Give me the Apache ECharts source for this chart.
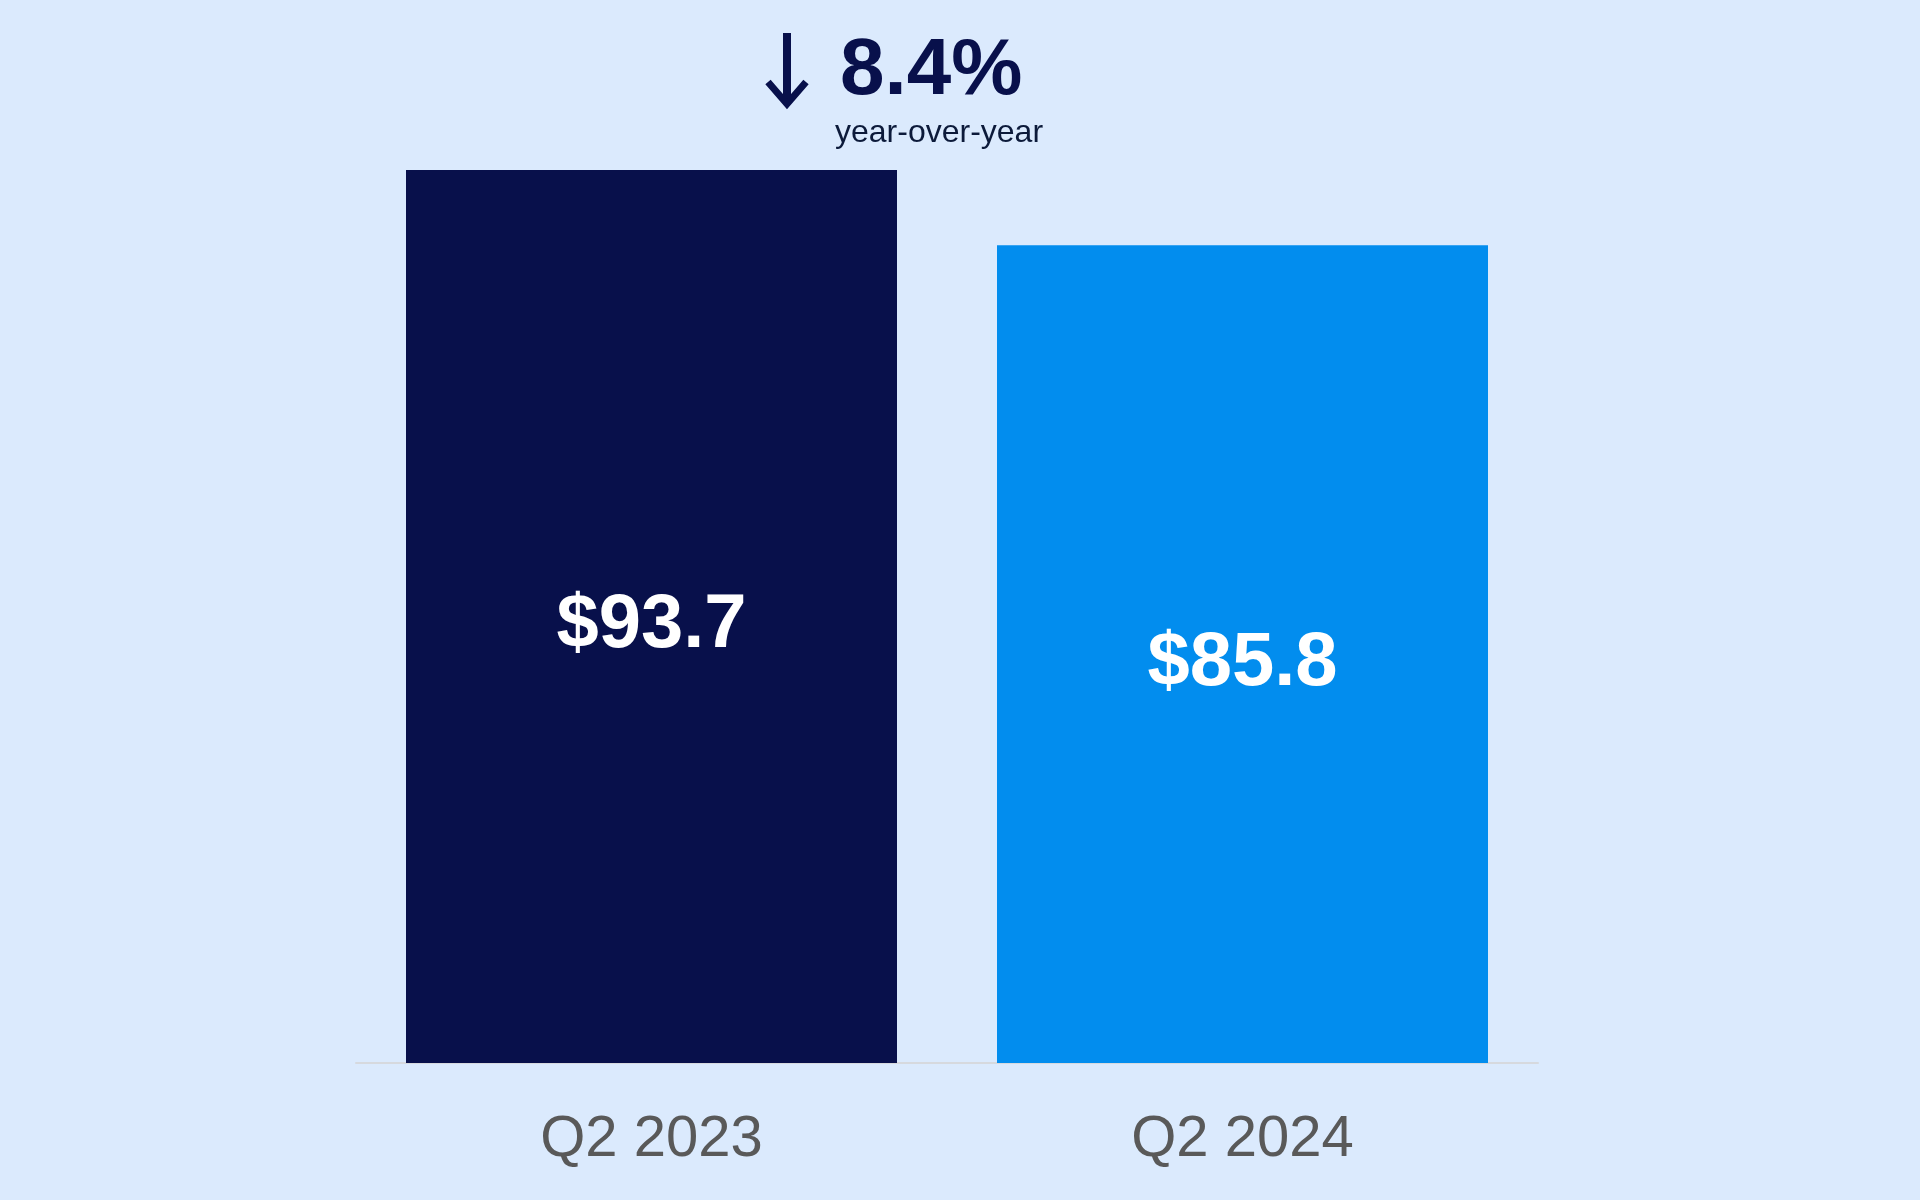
<!DOCTYPE html>
<html>
<head>
<meta charset="utf-8">
<title>Q2 revenue</title>
<script src="https://cdn.jsdelivr.net/npm/echarts@6/dist/echarts.min.js"></script>
<style>
    html,body{margin:0;padding:0;background:#dbeafd;}
    #J_Main{width:1920px;height:1200px;}
</style>
</head>
<body>
<div id="J_Main"></div>
<script>
// chart data
var categories=["Q2 2023","Q2 2024"];
var values=[93.7,85.8];
var barColors=["#08104b","#028dee"];
var changeText="8.4%";
var changeNote="year-over-year";

var chartDom=document.getElementById("J_Main");
var myChart=echarts.init(chartDom);

var seriesData=values.map(function(v,i){
    return {value:v,itemStyle:{color:barColors[i]}};
});

var option={
    backgroundColor:"#dbeafd",
    animation:false,
    grid:{
        top:110,
        bottom:137,
        left:356,
        right:382
    },
    xAxis:{
        type:"category",
        data:categories,
        axisLine:{
            show:true,
            lineStyle:{color:"#d6d9de",width:2}
        },
        axisTick:{show:false},
        axisLabel:{
            color:"#595959",
            fontSize:58,
            fontFamily:"Liberation Sans, Arial, sans-serif",
            margin:48
        }
    },
    yAxis:{
        type:"value",
        min:0,
        max:100,
        show:false,
        splitLine:{show:false}
    },
    graphic:[{
        type:"polyline",
        shape:{points:[[787,33],[787,102]]},
        style:{stroke:"#08104b",lineWidth:8,fill:null}
    },{
        type:"polyline",
        shape:{points:[[768,82],[787,104],[806,82]]},
        style:{stroke:"#08104b",lineWidth:7,fill:null,lineJoin:"miter"}
    },{
        type:"text",
        left:840,
        top:32,
        style:{
            text:changeText,
            fill:"#08104b",
            font:"bold 80px 'Liberation Sans', Arial, sans-serif"
        }
    },{
        type:"text",
        left:835,
        top:117,
        style:{
            text:changeNote,
            fill:"#0c1a3a",
            font:"32px 'Liberation Sans', Arial, sans-serif"
        }
    }],
    series:[{
        type:"bar",
        data:seriesData,
        barWidth:491,
        label:{
            show:true,
            position:"inside",
            offset:[0,10],
            color:"#ffffff",
            fontSize:76,
            fontWeight:"bold",
            fontFamily:"Liberation Sans, Arial, sans-serif",
            formatter:function(p){return "$"+p.value.toFixed(1);}
        }
    }]
};
myChart.setOption(option);
</script>
</body>
</html>
